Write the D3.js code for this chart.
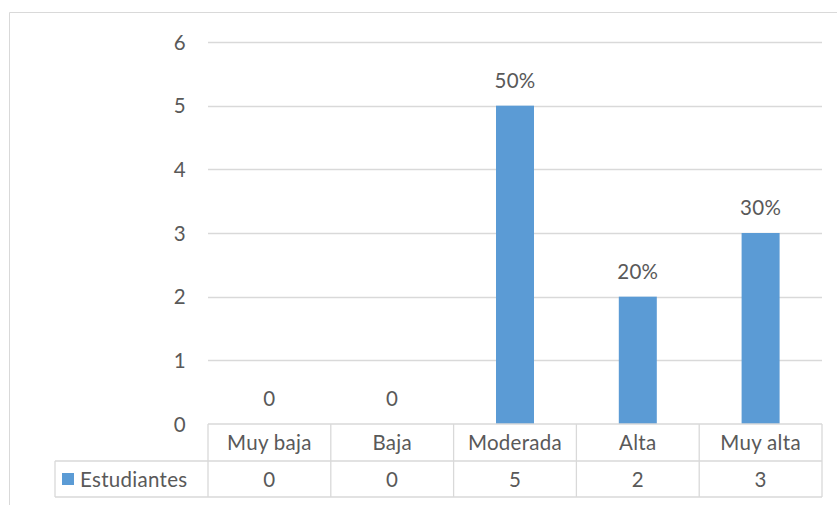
<!DOCTYPE html>
<html><head><meta charset="utf-8">
<script src="https://cdn.jsdelivr.net/npm/d3@7"></script>
<style>body{margin:0;background:#fff}svg{display:block}text{font-weight:400;letter-spacing:0.3px}</style>
</head><body>
<svg id="c" width="837" height="505"></svg>
<script>
const categories = ["Muy baja","Baja","Moderada","Alta","Muy alta"];
const seriesName = "Estudiantes";
const values = [0,0,5,2,3];
const labels = ["0","0","50%","20%","30%"];
const yTicks = [0,1,2,3,4,5,6];

const svg = d3.select("#c");
const font = "Lato, 'Open Sans', sans-serif";
const fs = 20.5;
const grey = "#595959", line = "#d9d9d9", blue = "#5b9bd5";
const L = 208, R = 822, T = 42, B = 424;
const x = d3.scaleBand().domain(categories).range([L,R]).paddingInner(0).paddingOuter(0);
const y = d3.scaleLinear().domain([0,6]).range([B,T]);

// chart border
svg.append("path").attr("d","M9.5,505 V12.5 H837").attr("fill","none").attr("stroke",line).attr("stroke-width",1);

// gridlines
svg.append("g").selectAll("line").data(yTicks.filter(d=>d>0)).join("line")
  .attr("x1",L).attr("x2",R).attr("y1",d=>Math.round(y(d))+0.5).attr("y2",d=>Math.round(y(d))+0.5)
  .attr("stroke",line).attr("stroke-width",1.3);

// y labels
svg.append("g").selectAll("text").data(yTicks).join("text")
  .attr("x",186).attr("y",d=>y(d)+7.5).attr("text-anchor","end")
  .attr("font-family",font).attr("font-size",fs).attr("fill",grey).text(d=>d);

// bars
const bw = 38;
svg.append("g").selectAll("rect").data(values).join("rect")
  .attr("x",(d,i)=>x(categories[i])+x.bandwidth()/2-bw/2).attr("width",bw)
  .attr("y",d=>y(d)).attr("height",d=>B-y(d)).attr("fill",blue);

// data labels
svg.append("g").selectAll("text").data(values).join("text")
  .attr("x",(d,i)=>x(categories[i])+x.bandwidth()/2).attr("y",d=>y(d)-18)
  .attr("text-anchor","middle").attr("font-family",font).attr("font-size",fs).attr("fill",grey)
  .text((d,i)=>labels[i]);

// data table
const r1 = B, r2 = 461, r3 = 497, legL = 55;
const tg = svg.append("g").attr("stroke",line).attr("stroke-width",1.3).attr("fill","none");
tg.append("line").attr("x1",L).attr("x2",R).attr("y1",r1).attr("y2",r1);
tg.append("line").attr("x1",legL).attr("x2",R).attr("y1",r2).attr("y2",r2);
tg.append("line").attr("x1",legL).attr("x2",R).attr("y1",r3).attr("y2",r3);
tg.append("line").attr("x1",legL).attr("x2",legL).attr("y1",r2).attr("y2",r3);
const bounds = categories.map(c=>x(c)).concat([R]);
tg.selectAll("line.v").data(bounds).join("line").attr("class","v")
  .attr("x1",d=>d).attr("x2",d=>d).attr("y1",r1).attr("y2",r3);

svg.append("g").selectAll("text").data(categories).join("text")
  .attr("x",d=>x(d)+x.bandwidth()/2).attr("y",(r1+r2)/2+7.5).attr("text-anchor","middle")
  .attr("font-family",font).attr("font-size",fs).attr("fill",grey).text(d=>d);
svg.append("g").selectAll("text").data(values).join("text")
  .attr("x",(d,i)=>x(categories[i])+x.bandwidth()/2).attr("y",(r2+r3)/2+7.5).attr("text-anchor","middle")
  .attr("font-family",font).attr("font-size",fs).attr("fill",grey).text(d=>d);
svg.append("rect").attr("x",62).attr("y",473).attr("width",12).attr("height",12).attr("fill",blue);
svg.append("text").attr("x",80).attr("y",(r2+r3)/2+7.5).attr("font-family",font).attr("font-size",fs)
  .attr("fill",grey).text(seriesName);
</script>
</body></html>
